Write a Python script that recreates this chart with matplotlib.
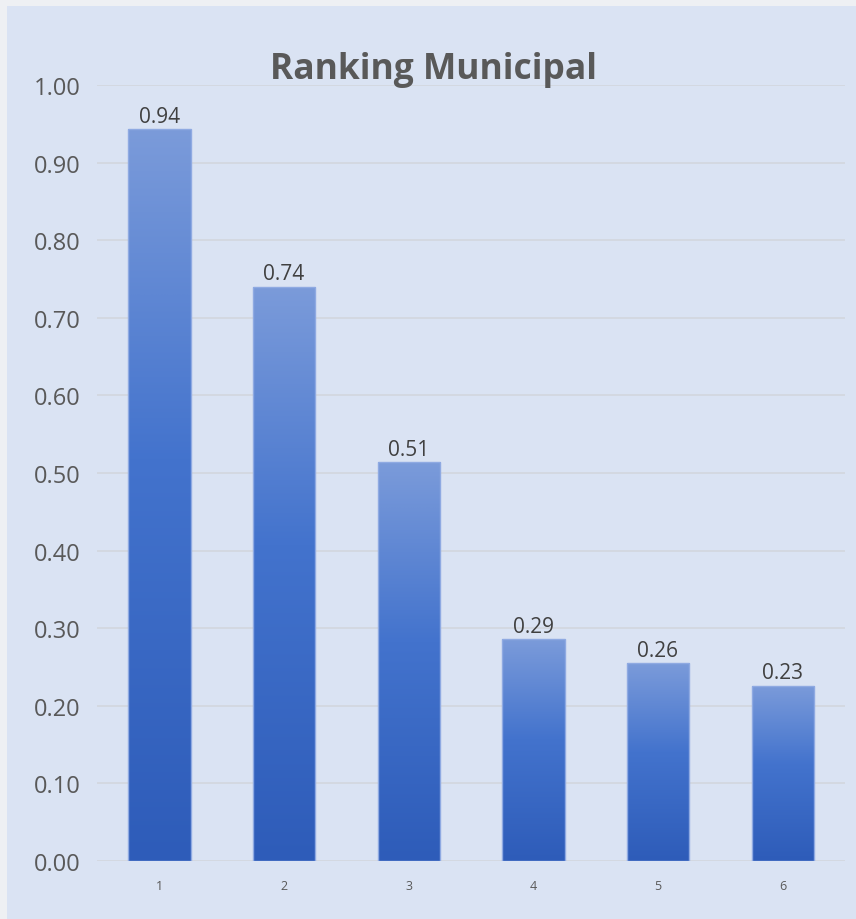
import matplotlib
matplotlib.use("Agg")
import matplotlib.pyplot as plt
import numpy as np
from matplotlib.colors import LinearSegmentedColormap
from matplotlib.patches import Rectangle

categories = ["1", "2", "3", "4", "5", "6"]
values = [0.943, 0.740, 0.514, 0.286, 0.255, 0.226]
labels = ["0.94", "0.74", "0.51", "0.29", "0.26", "0.23"]
yticks = [0.0, 0.1, 0.2, 0.3, 0.4, 0.5, 0.6, 0.7, 0.8, 0.9, 1.0]
title = "Ranking Municipal"

BG = "#DAE3F3"
plt.rcParams['font.family'] = ['Open Sans', 'DejaVu Sans']

fig = plt.figure(figsize=(8.56, 9.2), dpi=100, facecolor=BG)
# thin pale border on left/top like the screenshot
fig.patches.append(Rectangle((0, 0), 7/856, 1, transform=fig.transFigure,
                             facecolor="#EEF0F3", edgecolor="none", zorder=-5))
fig.patches.append(Rectangle((0, 1 - 7/920), 1, 7/920, transform=fig.transFigure,
                             facecolor="#EEF0F3", edgecolor="none", zorder=-5))

ax = fig.add_axes([97/856, 58/920, 748/856, 776/920])
ax.set_facecolor(BG)
x = np.arange(len(categories))
bars = ax.bar(x, values, width=0.5, color="none", edgecolor="#8FAAE2", linewidth=1.0, zorder=3)

cmap = LinearSegmentedColormap.from_list(
    "grad", [(0.0, "#2E5CB9"), (0.55, "#4373CD"), (1.0, "#7B9BDA")])
grad = np.linspace(0, 1, 256).reshape(-1, 1)
for b in bars:
    x0, w, h = b.get_x(), b.get_width(), b.get_height()
    im = ax.imshow(grad, cmap=cmap, origin="lower", aspect="auto",
                   extent=[x0, x0 + w, 0, h], zorder=2, interpolation="bicubic")
    im.set_clip_path(b)

for xi, v, lab in zip(x, values, labels):
    ax.text(xi, v + 0.003, lab, ha="center", va="bottom", fontsize=15, color="#404040")

ax.set_xlim(-0.5, len(categories) - 0.5)
ax.set_ylim(0, 1.0)
ax.set_yticks(yticks)
ax.set_yticklabels([f"{t:.2f}" for t in yticks], fontsize=17, color="#595959")
ax.set_xticks(x)
ax.set_xticklabels(categories, fontsize=9, color="#595959")
ax.tick_params(axis="both", length=0)
ax.tick_params(axis="y", pad=12)
ax.tick_params(axis="x", pad=13)
ax.grid(axis="y", color="#D2D6DE", linewidth=1.2, zorder=0)
ax.set_axisbelow(True)
for s in ax.spines.values():
    s.set_visible(False)

fig.text(433/856, 1 - 70/920, title, ha="center", va="center", fontsize=25.5,
         fontweight="bold", color="#595959")

fig.savefig("out.png", dpi=100, facecolor=BG)
